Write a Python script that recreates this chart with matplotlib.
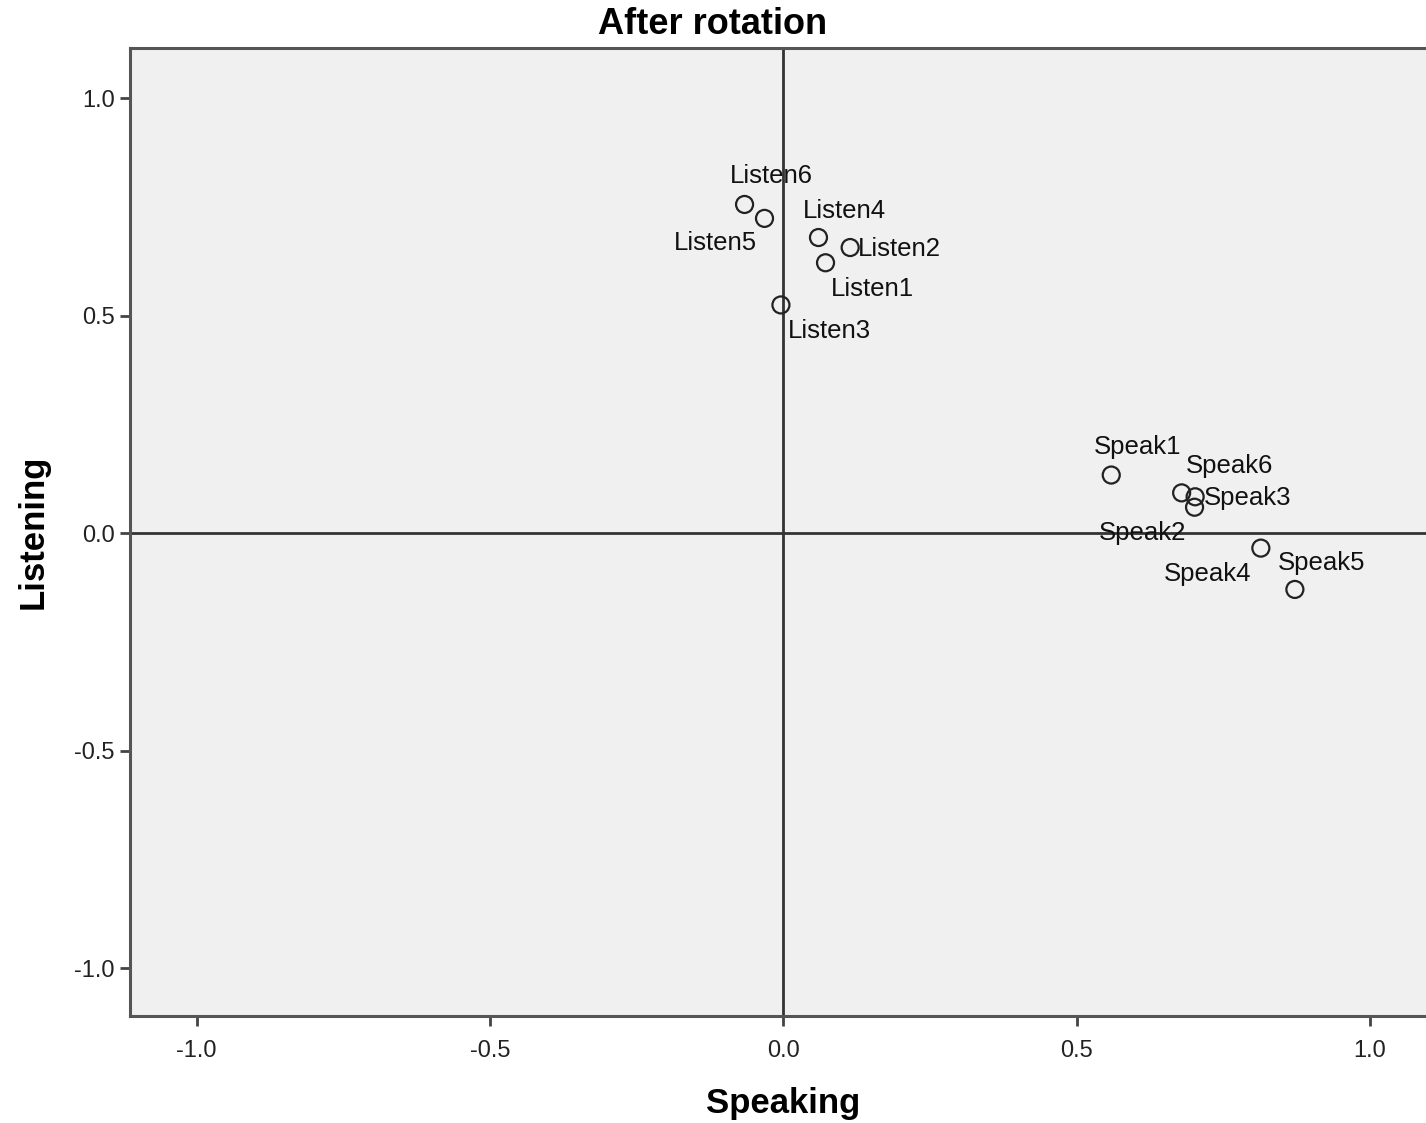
import matplotlib.pyplot as plt

plt.rcParams['font.family'] = ['Liberation Sans', 'DejaVu Sans']

# rotated loadings (component 1 = Speaking, component 2 = Listening)
items = ['Listen6', 'Listen5', 'Listen4', 'Listen2', 'Listen1', 'Listen3',
         'Speak1', 'Speak6', 'Speak3', 'Speak2', 'Speak4', 'Speak5']
speaking = [-0.066, -0.032, 0.060, 0.114, 0.072, -0.004,
            0.559, 0.679, 0.702, 0.701, 0.814, 0.872]
listening = [0.756, 0.724, 0.680, 0.657, 0.622, 0.525,
             0.134, 0.093, 0.084, 0.060, -0.034, -0.129]

# label placement (pixel offset from marker, horizontal alignment)
label_pos = {
    'Listen6': (27, 28, 'center'), 'Listen5': (-49, -25, 'center'),
    'Listen4': (26, 27, 'center'), 'Listen2': (8, -1, 'left'),
    'Listen1': (47, -26, 'center'), 'Listen3': (49, -26, 'center'),
    'Speak1': (26, 28, 'center'), 'Speak6': (48, 27, 'center'),
    'Speak3': (9, -1, 'left'), 'Speak2': (-52, -26, 'center'),
    'Speak4': (-53, -26, 'center'), 'Speak5': (27, 26, 'center'),
}

fig = plt.figure(figsize=(14.26, 11.23), dpi=100)
ax = fig.add_axes([130 / 1426, 1 - 1016 / 1123, 1 - 130 / 1426, (1016 - 48) / 1123])
ax.set_facecolor('#f0f0f0')

ax.axvline(0, color='#333333', lw=2, zorder=1)
ax.axhline(0, color='#333333', lw=2, zorder=1)

ax.scatter(speaking, listening, s=150, facecolors='none', edgecolors='#222222',
           linewidths=1.6, zorder=3)

for name, x, y in zip(items, speaking, listening):
    dx, dy, ha = label_pos[name]
    ax.annotate(name, (x, y), xytext=(dx, dy), textcoords='offset pixels',
                ha=ha, va='center', fontsize=18.5, color='#111111', zorder=4)

ax.set_xlim(-1.1135, 1.0955)
ax.set_ylim(-1.1096, 1.1157)
ax.set_xticks([-1.0, -0.5, 0.0, 0.5, 1.0])
ax.set_yticks([-1.0, -0.5, 0.0, 0.5, 1.0])
ax.set_xticklabels(['-1.0', '-0.5', '0.0', '0.5', '1.0'])
ax.set_yticklabels(['-1.0', '-0.5', '0.0', '0.5', '1.0'])
ax.tick_params(axis='both', direction='out', length=7, width=2, color='#444444',
               labelsize=17, labelcolor='#222222', pad=4)
ax.tick_params(axis='x', pad=10)

for side in ['left', 'top', 'bottom']:
    ax.spines[side].set_color('#555555')
    ax.spines[side].set_linewidth(2.2)
ax.spines['right'].set_visible(False)

ax.set_xlabel('Speaking', fontsize=25, fontweight='bold', va='center')
ax.set_ylabel('Listening', fontsize=25, fontweight='bold', va='center')
ax.xaxis.set_label_coords((783 - 130) / 1296, -(1104 - 1016) / 968)
ax.yaxis.set_label_coords(-(130 - 33) / 1296, 0.5)
fig.text(0.5, 1 - 24 / 1123, 'After rotation', ha='center', va='center',
         fontsize=26, fontweight='bold')

fig.savefig('out.png', dpi=100)
